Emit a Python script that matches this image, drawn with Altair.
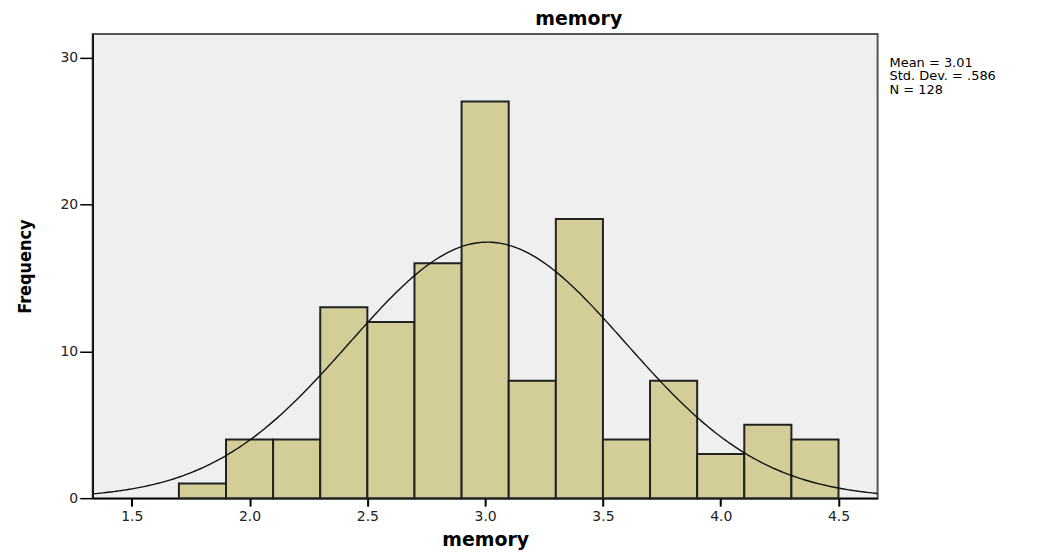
import altair as alt
import pandas as pd
import numpy as np

bin_starts = [1.7, 1.9, 2.1, 2.3, 2.5, 2.7, 2.9, 3.1, 3.3, 3.5, 3.7, 3.9, 4.1, 4.3]
bin_width = 0.2
counts = [1, 4, 4, 13, 12, 16, 27, 8, 19, 4, 8, 3, 5, 4]
mean_val = 3.01
sd_val = 0.586
n_val = 128
stats_lines = ["Mean = 3.01", "Std. Dev. = .586", "N = 128"]
x_ticks = [1.5, 2.0, 2.5, 3.0, 3.5, 4.0, 4.5]
y_ticks = [0, 10, 20, 30]

X_DOM = [1.334, 4.666]
Y_DOM = [0, 31.6]
W, H = 788, 466

bars = pd.DataFrame({
    "start": bin_starts,
    "end": [round(s + bin_width, 2) for s in bin_starts],
    "count": counts,
})

# fitted normal curve from the reported statistics
xs = np.linspace(X_DOM[0], X_DOM[1], 300)
curve = pd.DataFrame({
    "x": xs,
    "y": n_val * bin_width * np.exp(-0.5 * ((xs - mean_val) / sd_val) ** 2) / (sd_val * np.sqrt(2 * np.pi)),
})

xscale = alt.Scale(domain=X_DOM, nice=False, zero=False)
yscale = alt.Scale(domain=Y_DOM, nice=False)

xaxis = alt.Axis(values=x_ticks, format=".1f", title="memory", grid=False,
                 tickSize=8, tickColor="#000", tickWidth=2, domainColor="#000", domainWidth=1.5,
                 labelFont="DejaVu Sans", labelFontSize=14, labelColor="#222",
                 labelPadding=3, titleFont="DejaVu Sans", titleFontWeight="bold",
                 titleFontSize=19, titlePadding=8, titleColor="#000")
yaxis = alt.Axis(values=y_ticks, title="Frequency", grid=False,
                 tickSize=13, tickColor="#000", tickWidth=1.5, domainColor="#000", domainWidth=1.5,
                 labelFont="DejaVu Sans", labelFontSize=14, labelColor="#222",
                 labelPadding=2, titleFont="DejaVu Sans Condensed, Liberation Sans", titleFontWeight="bold",
                 titleFontSize=18, titlePadding=26, titleColor="#000")

bar_layer = alt.Chart(bars).mark_rect(
    fill="#D3CE97", stroke="#222", strokeWidth=2
).encode(
    x=alt.X("start:Q", scale=xscale, axis=xaxis),
    x2="end:Q",
    y=alt.Y("count:Q", scale=yscale, axis=yaxis),
    y2=alt.datum(0),
)

line_layer = alt.Chart(curve).mark_line(color="#111", strokeWidth=1.4, clip=True).encode(
    x=alt.X("x:Q", scale=xscale),
    y=alt.Y("y:Q", scale=yscale),
)

text_layer = alt.Chart(bars.head(1)).mark_text(
    align="left", baseline="top", font="DejaVu Sans", fontSize=13, color="#000", lineHeight=13.5
).encode(
    x=alt.value(W + 12),
    y=alt.value(23),
    text=alt.value(stats_lines),
)

chart = alt.layer(bar_layer, line_layer, text_layer).properties(
    width=W,
    height=H,
    background="white",
    autosize=alt.AutoSizeParams(type="none"),
    padding={"left": 85, "top": 25, "right": 160, "bottom": 60},
    title=alt.TitleParams("memory", anchor="middle", dx=94, offset=5,
                          font="DejaVu Sans", fontSize=19, fontWeight="bold", color="#000"),
).configure_view(
    fill="#EFEFEF", stroke="#555", strokeWidth=2
)

chart.save("out.html", embed_options={"renderer": "svg", "actions": False})
